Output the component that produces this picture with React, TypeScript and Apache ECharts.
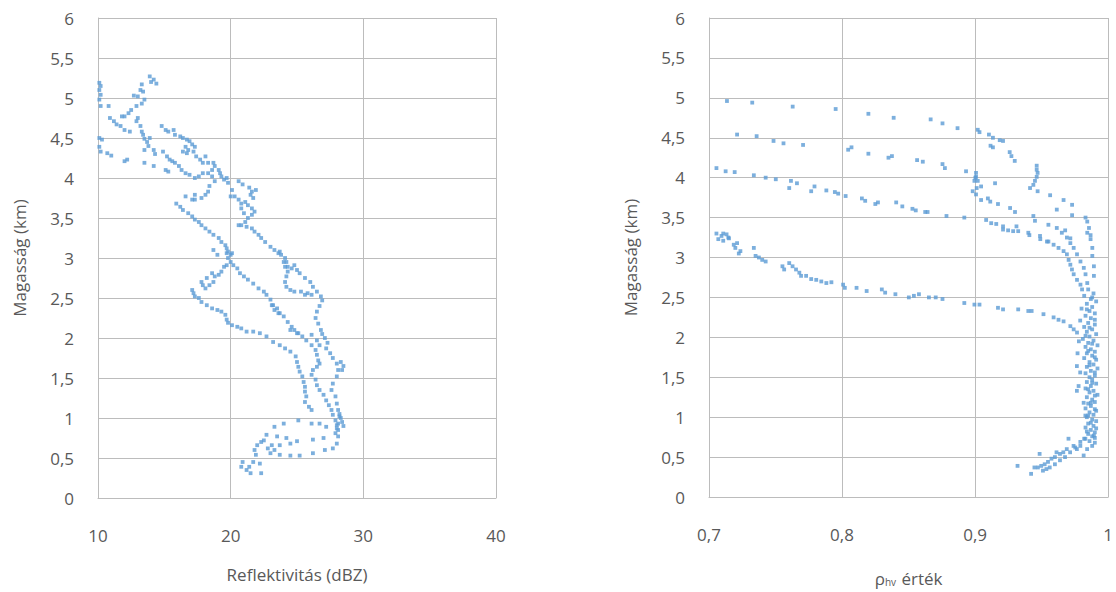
import React, { useEffect, useRef } from "react";
import * as echarts from "echarts";

// Reflectivity (dBZ) vs height (km)
const reflPoints: [number, number][] = [
  [10.1,5.19],[10.2,5.15],[10.1,5.1],[10.2,5.04],[10.1,4.98],[10.2,4.9],[10.8,4.9],
  [13.9,5.27],[14.2,5.23],[14.4,5.18],[14.0,5.2],
  [13.3,5.17],[13.2,5.1],[13.4,5.08],[13.0,5.02],[12.7,5.03],[13.5,4.98],[13.3,4.93],[12.9,4.9],[12.5,4.85],[12.3,4.81],[12.0,4.77],[11.8,4.77],
  [10.9,4.75],[11.2,4.71],[11.4,4.67],[11.7,4.65],[12.0,4.6],[12.4,4.58],
  [13.0,4.75],[12.9,4.71],[13.2,4.65],[13.3,4.58],[13.4,4.54],[13.5,4.49],[13.7,4.45],[13.8,4.4],[13.5,4.35],[14.2,4.35],[14.3,4.3],[13.9,4.5],
  [10.1,4.5],[10.3,4.48],[10.1,4.39],[10.2,4.33],[10.7,4.31],[11.0,4.28],[12.2,4.23],[12.0,4.21],[13.5,4.19],[14.2,4.15],
  [14.8,4.65],[15.1,4.6],[15.3,4.58],[15.7,4.6],[15.8,4.54],[16.2,4.52],[16.4,4.5],[16.7,4.48],[16.9,4.46],[17.1,4.42],[17.3,4.39],[17.2,4.33],[17.4,4.27],[17.7,4.23],[17.9,4.19],[18.1,4.27],[18.3,4.19],
  [16.6,4.39],[16.4,4.33],[16.7,4.31],[16.8,4.35],
  [14.9,4.33],[15.2,4.27],[15.4,4.23],[15.6,4.21],[15.8,4.19],[15.1,4.1],[15.3,4.08],[16.1,4.15],[16.3,4.1],[16.6,4.06],[16.9,4.04],[17.3,4.0],[17.6,4.02],[17.9,4.06],[18.3,4.06],[18.6,4.1],[18.7,4.19],[18.8,4.15],[19.1,4.1],[19.2,4.06],[19.3,4.02],[19.5,3.98],[19.7,4.0],[19.8,3.94],[18.6,4.02],[18.8,3.96],[18.4,3.9],[18.3,3.83],[18.1,3.79],[17.8,3.75],[17.3,3.73],
  [20.6,3.96],[20.9,3.92],[21.4,3.88],[21.6,3.83],[21.9,3.85],[21.5,3.79],[21.7,3.75],[20.1,3.85],[20.0,3.77],
  [15.9,3.68],[16.2,3.64],[16.4,3.6],[16.8,3.56],[17.1,3.52],[17.3,3.48],[17.6,3.45],[17.8,3.41],[18.1,3.37],[18.4,3.33],[18.7,3.29],[19.1,3.25],[19.3,3.2],[19.6,3.16],[19.7,3.12],[19.8,3.08],[20.0,3.04],
  [16.6,3.77],[17.1,3.73],[17.3,3.79],
  [20.3,3.77],[20.6,3.73],[20.8,3.68],[21.1,3.7],[21.3,3.66],[21.6,3.62],[21.8,3.58],[21.6,3.54],[21.3,3.5],[21.1,3.45],[20.8,3.41],[21.2,3.39],[21.6,3.37],[21.8,3.33],[22.1,3.29],[22.3,3.25],[22.6,3.2],[23.0,3.14],[23.3,3.1],[23.6,3.06],[23.8,3.04],[24.1,3.0],[24.2,2.95],[24.3,2.89],[24.6,2.87],[24.8,2.91],[25.0,2.85],[25.2,2.81],[25.6,2.75],[26.0,2.7],[26.2,2.64],
  [20.8,3.62],[21.0,3.56],[20.6,3.41],
  [19.7,3.06],[20.1,3.06],[19.8,3.0],[20.0,2.95],[19.7,2.91],[19.5,2.89],[19.3,2.83],[19.1,2.79],[18.8,2.77],[18.7,2.7],[18.4,2.66],[18.1,2.62],[17.9,2.66],
  [20.2,2.91],[20.5,2.87],[20.7,2.81],[21.0,2.77],[21.3,2.73],[21.7,2.68],[22.1,2.62],[22.5,2.58],[22.7,2.54],[23.0,2.48],[23.2,2.41],[23.5,2.37],[23.7,2.31],[24.0,2.27],[24.3,2.2],[24.6,2.14],[24.8,2.1],[25.1,2.06],
  [18.7,3.1],[19.0,3.04],
  [17.1,2.6],[17.2,2.56],[17.3,2.52],[17.6,2.5],[17.8,2.45],[18.2,2.41],[18.6,2.37],[19.0,2.35],[19.3,2.33],[19.6,2.29],[19.7,2.23],[19.8,2.19],[20.1,2.16],[20.5,2.14],[20.8,2.12],[21.2,2.08],
  [18.2,2.75],[18.6,2.81],[17.8,2.7],
  [23.7,3.08],[24.0,2.95],[24.1,2.89],[24.3,2.83],[24.2,2.77],[24.1,2.7],[24.2,2.64],[24.5,2.6],[24.8,2.58],[25.3,2.58],[25.6,2.54],[25.8,2.56],[26.1,2.54],
  [23.1,2.41],[23.3,2.35],[23.6,2.31],
  [26.5,2.58],[26.8,2.52],[26.9,2.47],[26.7,2.4],[26.5,2.33],[26.4,2.25],[26.6,2.18],[26.8,2.1],[26.9,2.05],[27.1,2.0],[27.3,1.94],[28.3,1.7],[28.5,1.65],[28.4,1.6],
  [21.7,2.08],[22.2,2.06],[22.7,2.02],[23.2,1.95],[23.7,1.91],[24.1,1.87],[24.5,1.83],[24.9,1.77],[25.0,1.7],[25.1,1.64],[25.2,1.58],[25.4,1.52],[25.5,1.45],[25.6,1.39],[25.6,1.33],[25.7,1.27],[25.6,1.2],[25.9,1.14],[26.1,1.1],
  [24.5,2.1],[25.0,2.06],[25.4,2.02],[25.7,1.97],[26.1,1.91],[26.4,1.85],[26.5,1.79],[26.6,1.72],[26.7,1.68],[26.5,1.64],[26.2,1.6],[26.1,1.54],[26.4,1.48],[26.5,1.41],[26.7,1.35],[27.0,1.29],[27.2,1.22],[27.4,1.16],[27.6,1.1],[27.7,1.04],[27.9,0.97],[28.0,0.91],[28.1,0.85],
  [26.1,2.04],[26.5,1.97],[26.7,1.91],[27.2,1.87],[27.5,1.81],[27.7,1.75],[28.0,1.68],[28.1,1.6],[28.0,1.52],[27.7,1.43],[27.6,1.35],[27.9,1.27],[28.0,1.18],[28.1,1.1],[28.2,1.02],[28.1,0.93],[28.0,0.87],[27.9,0.81],
  [28.3,1.0],[28.4,0.95],[28.2,1.05],[28.5,0.9],
  [20.9,0.45],[20.8,0.39],[21.2,0.35],[21.5,0.31],[21.7,0.45],[21.9,0.54],[21.8,0.6],[22.0,0.66],[22.3,0.7],[22.7,0.79],[22.5,0.72],[22.2,0.43],[22.3,0.31],[21.4,0.39],
  [23.3,0.89],[24.0,0.93],[25.1,0.97],[26.1,0.93],[26.7,0.93],[27.2,0.89],
  [23.5,0.77],[24.2,0.75],[25.0,0.71],[26.2,0.73],[27.0,0.75],
  [23.1,0.66],[23.7,0.66],[24.5,0.68],
  [23.0,0.56],[23.7,0.54],[24.5,0.53],[25.2,0.53],[26.2,0.56],[27.1,0.6],[27.7,0.62],[28.0,0.68],
  [22.8,0.62],[23.3,0.6],[28.1,0.77]
];

// Correlation coefficient (rho_hv) vs height (km)
const rhoPoints: [number, number][] = [
  [0.7135,4.96],[0.7325,4.94],[0.7629,4.89],[0.7952,4.86],[0.8198,4.8],[0.8388,4.75],[0.8666,4.73],[0.8755,4.68],[0.8868,4.62],[0.902,4.6],[0.9033,4.57],[0.9104,4.54],[0.9134,4.5],[0.9185,4.47],[0.921,4.46],[0.926,4.32],[0.9273,4.27],[0.9298,4.21],
  [0.7211,4.54],[0.7358,4.52],[0.7485,4.46],[0.756,4.43],[0.7707,4.41],[0.8046,4.35],[0.8071,4.38],[0.8198,4.3],[0.8349,4.25],[0.8375,4.27],[0.8564,4.22],[0.8607,4.2],[0.8755,4.17],[0.8773,4.12],[0.8932,4.08],[0.9007,4.06],[0.9002,4.0],[0.8995,3.96],[0.9116,4.4],[0.9134,4.38],
  [0.7056,4.12],[0.7125,4.08],[0.7193,4.07],[0.7337,4.03],[0.7426,4.0],[0.7502,3.98],[0.7603,3.87],[0.7616,3.96],[0.7661,3.93],[0.7768,3.83],[0.7793,3.89],[0.7882,3.84],[0.7946,3.82],[0.7971,3.8],[0.8027,3.77],[0.8149,3.74],[0.8174,3.71],[0.825,3.67],[0.827,3.69],[0.8407,3.69],[0.8453,3.64],[0.8529,3.61],[0.8554,3.59],[0.8625,3.57],[0.8643,3.57],[0.8785,3.52],[0.8919,3.5],
  [0.9007,4.01],[0.902,3.96],[0.9012,3.87],[0.8982,3.83],[0.9007,3.79],[0.9045,3.89],[0.9045,3.72],[0.9096,3.74],[0.9114,3.7],[0.9172,3.67],[0.915,3.93],[0.9263,3.62],[0.93,3.57],[0.9083,3.47],[0.9121,3.43],[0.9159,3.42],[0.921,3.39],[0.9248,3.34],[0.9311,3.39],[0.9324,3.33],[0.9408,3.28],
  [0.9463,4.15],[0.9463,4.1],[0.947,4.06],[0.9463,4.01],[0.945,3.96],[0.9438,3.91],[0.9413,3.87],[0.947,3.83],[0.9564,3.78],[0.9665,3.72],[0.9729,3.66],[0.9614,3.6],[0.9729,3.53],[0.9438,3.52],[0.945,3.46],[0.9551,3.41],[0.9614,3.37],[0.9677,3.34],[0.9716,3.24],[0.983,3.5],[0.9843,3.45],[0.9856,3.37],[0.9868,3.28],[0.949,3.23],[0.954,3.2],
  [0.7056,3.3],[0.7107,3.3],[0.715,3.24],[0.707,3.23],
  [0.7094,3.27],[0.7132,3.29],[0.7145,3.25],[0.7107,3.21],[0.7186,3.16],[0.7211,3.18],[0.7198,3.12],[0.7236,3.08],[0.7224,3.05],[0.7337,3.12],[0.735,3.02],[0.7375,3.0],[0.74,2.97],[0.7426,2.95],[0.7552,2.89],[0.7565,2.85],[0.7603,2.93],[0.7628,2.89],[0.7654,2.85],[0.7679,2.81],[0.7692,2.77],[0.773,2.77],[0.7768,2.73],[0.7806,2.72],[0.7844,2.7],[0.7882,2.68],[0.792,2.69],[0.8008,2.66],[0.8021,2.62],[0.8109,2.62],[0.8185,2.58],[0.8299,2.6],[0.8324,2.56],[0.8401,2.54],[0.8502,2.5],[0.854,2.52],[0.8578,2.54],[0.8653,2.5],[0.8704,2.5],[0.8755,2.48],[0.8919,2.43],[0.8995,2.41],[0.9033,2.41],[0.9172,2.37],[0.921,2.35],[0.9324,2.35],[0.94,2.33],[0.9425,2.33],[0.9514,2.29],[0.959,2.25],[0.9627,2.22],[0.9665,2.2],[0.9716,2.14],[0.9741,2.1],[0.9766,2.06],
  [0.921,3.35],[0.9286,3.33],[0.94,3.31],[0.9488,3.27],[0.9551,3.2],[0.959,3.16],[0.9627,3.12],[0.9665,3.08],[0.969,3.04],[0.9703,2.97],[0.9716,2.91],[0.9728,2.85],[0.9741,2.79],[0.9766,2.72],[0.9792,2.66],[0.9804,2.6],
  [0.9652,3.31],[0.969,3.25],[0.9716,3.18],[0.9741,3.12],[0.9766,3.04],[0.9792,2.95],[0.9817,2.87],[0.983,2.79],[0.9843,2.68],
  [0.9843,3.31],[0.9868,3.23],[0.9881,3.12],[0.9881,3.02],[0.9893,2.89],[0.9893,2.77],
  [0.985,2.6],[0.989,2.55],[0.982,2.52],[0.987,2.48],[0.991,2.45],[0.984,2.42],[0.988,2.38],[0.980,2.36],[0.986,2.33],[0.990,2.3],[0.983,2.27],[0.987,2.24],[0.979,2.21],[0.985,2.18],[0.990,2.16],[0.982,2.13],[0.988,2.1],[0.984,2.07],[0.991,2.04],[0.986,2.01],[0.981,1.98],[0.989,1.96],[0.985,1.93],[0.992,1.9],[0.983,1.88],[0.987,1.85],[0.990,1.82],[0.984,1.8],[0.988,1.77],[0.982,1.74],[0.991,1.72],[0.986,1.69],[0.989,1.66],[0.984,1.63],[0.992,1.61],[0.987,1.58],[0.983,1.55],[0.990,1.52],[0.986,1.5],[0.988,1.47],[0.984,1.44],[0.991,1.42],[0.987,1.39],[0.983,1.36],[0.989,1.33],[0.986,1.31],[0.992,1.28],[0.984,1.25],[0.988,1.22],[0.990,1.19],[0.985,1.17],[0.987,1.14],[0.983,1.11],[0.991,1.08],[0.986,1.06],[0.989,1.03],[0.984,1.0],[0.988,0.97],[0.991,0.95],[0.985,0.92],[0.989,0.89],[0.983,0.87],[0.987,0.84],[0.990,0.81],[0.985,0.79],[0.988,0.76],[0.982,0.73],[0.986,0.7],[0.99,0.68],
  [0.988,2.5],[0.984,2.35],[0.99,2.22],[0.986,2.12],[0.983,2.02],[0.988,1.92],[0.985,1.83],[0.99,1.75],[0.986,1.65],[0.99,1.56],[0.988,1.43],[0.985,1.35],[0.99,1.27],[0.987,1.18],[0.99,1.1],[0.985,1.02],[0.987,0.93],[0.991,0.86],[0.984,0.82],[0.99,0.74],
  [0.9765,1.64],[0.9778,1.39],[0.9765,1.33],[0.979,1.56],[0.9816,1.18],[0.9829,1.02],[0.977,1.8],[0.978,1.95],
  [0.9829,0.73],[0.9791,0.64],[0.9765,0.6],[0.974,0.64],[0.9702,0.73],[0.9689,0.6],[0.9663,0.56],[0.9638,0.54],[0.9612,0.56],[0.96,0.5],[0.9574,0.48],[0.9548,0.44],[0.9523,0.41],[0.9497,0.39],[0.9472,0.37],[0.9446,0.37],[0.9421,0.29],[0.9485,0.54],[0.9319,0.39],[0.9816,0.52],[0.9842,0.6],[0.988,0.64],[0.9893,0.77],[0.951,0.33],[0.9536,0.35],[0.9561,0.37],[0.96,0.41],[0.9638,0.46],[0.9676,0.5],[0.9714,0.56],[0.9753,0.62],[0.9791,0.69]
];

const heightTicks = { min: 0, max: 6, interval: 0.5 };
const reflTicks = { min: 10, max: 40, interval: 10 };
const rhoTicks = { min: 0.7, max: 1, interval: 0.1 };

const yTitle = "Magasság (km)";
const reflTitle = "Reflektivitás (dBZ)";

const FONT = "'Open Sans', 'Noto Sans', sans-serif";
const TXT = "#595959";
const GRID = "#bcbcbc";
const DOT = "#5b9bd5";

const fmt = (v: number) => String(Math.round(v * 10) / 10).replace(".", ",");

export default function App() {
  const ref = useRef<HTMLDivElement>(null);
  useEffect(() => {
    if (!ref.current) return;
    const chart = echarts.init(ref.current, undefined, { renderer: "svg" });
    const yAxisBase = (gridIndex: number) => ({
      type: "value" as const,
      gridIndex,
      min: heightTicks.min,
      max: heightTicks.max,
      interval: heightTicks.interval,
      name: yTitle,
      nameLocation: "middle" as const,
      nameGap: 70,
      nameTextStyle: { color: TXT, fontFamily: FONT, fontSize: 17 },
      axisLine: { show: true, lineStyle: { color: GRID, width: 1 } },
      axisTick: { show: false },
      splitLine: { show: true, lineStyle: { color: GRID, width: 1 } },
      axisLabel: { color: TXT, fontFamily: FONT, fontSize: 17, margin: 24, formatter: fmt },
    });
    const xAxisBase = (gridIndex: number, t: { min: number; max: number; interval: number }) => ({
      type: "value" as const,
      gridIndex,
      min: t.min,
      max: t.max,
      interval: t.interval,
      nameLocation: "middle" as const,
      nameGap: 68,
      axisLine: { show: true, lineStyle: { color: GRID, width: 1 } },
      axisTick: { show: false },
      splitLine: { show: true, lineStyle: { color: GRID, width: 1 } },
      axisLabel: { color: TXT, fontFamily: FONT, fontSize: 17, margin: 29, formatter: fmt },
    });
    chart.setOption({
      animation: false,
      backgroundColor: "#ffffff",
      grid: [
        { left: 98, top: 18, width: 398, height: 480 },
        { left: 709, top: 18, width: 400, height: 480 },
      ],
      xAxis: [
        {
          ...xAxisBase(0, reflTicks),
          name: reflTitle,
          nameTextStyle: { color: TXT, fontFamily: FONT, fontSize: 17 },
        },
        {
          ...xAxisBase(1, rhoTicks),
          name: "{a|ρ}{b|hv}{a| érték}",
          nameTextStyle: {
            color: TXT,
            fontFamily: FONT,
            fontSize: 17,
            rich: {
              a: { color: TXT, fontFamily: FONT, fontSize: 17, lineHeight: 22, verticalAlign: "bottom" },
              b: { color: TXT, fontFamily: FONT, fontSize: 10, lineHeight: 15, verticalAlign: "bottom", padding: [0, 1, 0, 0] },
            },
          },
        },
      ],
      yAxis: [yAxisBase(0), yAxisBase(1)],
      series: [
        {
          type: "scatter",
          xAxisIndex: 0,
          yAxisIndex: 0,
          data: reflPoints,
          symbol: "rect",
          symbolSize: 3.8,
          itemStyle: { color: DOT, opacity: 0.8 },
        },
        {
          type: "scatter",
          xAxisIndex: 1,
          yAxisIndex: 1,
          data: rhoPoints,
          symbol: "rect",
          symbolSize: 3.8,
          itemStyle: { color: DOT, opacity: 0.8 },
        },
      ],
    });
    return () => chart.dispose();
  }, []);
  return (
    <div
      ref={ref}
      style={{ position: "fixed", left: 0, top: 0, width: 1116, height: 592, background: "#fff" }}
    />
  );
}
